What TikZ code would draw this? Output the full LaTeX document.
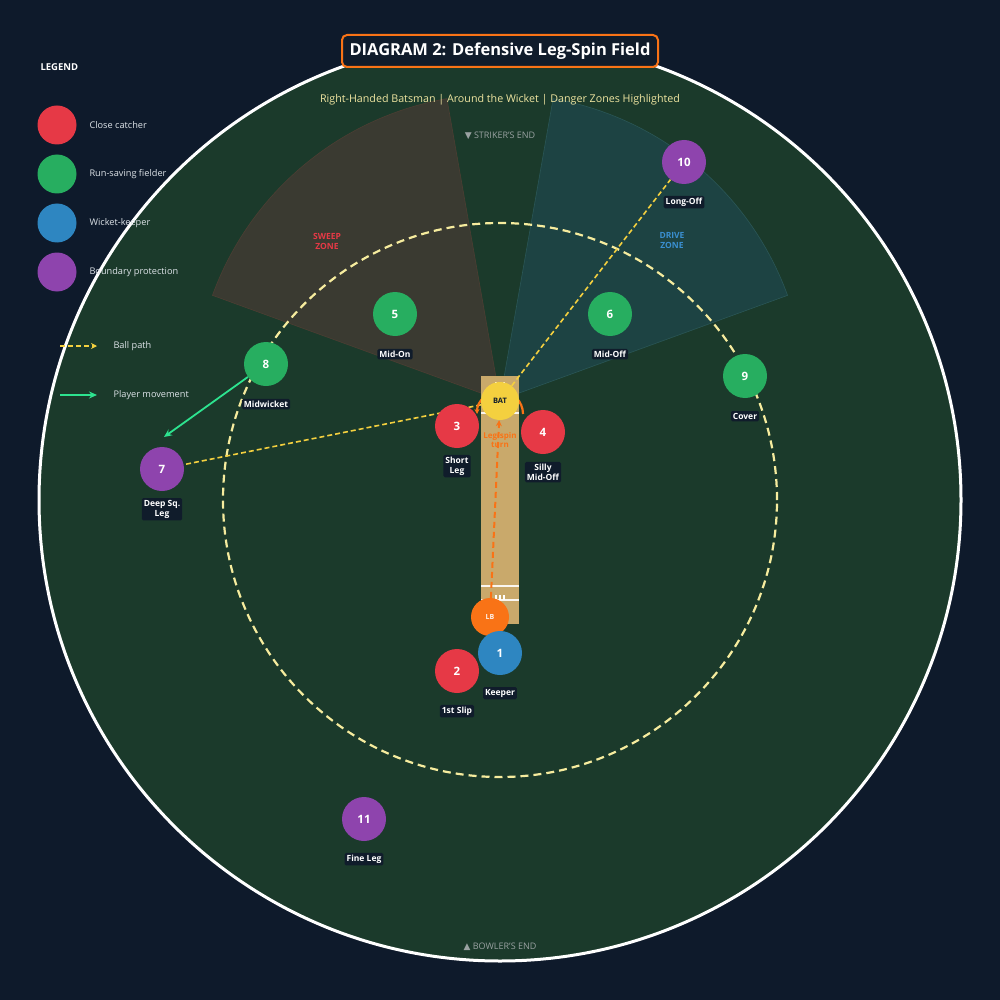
\documentclass[tikz,border=0pt]{standalone}
\usepackage{fontspec}
\setmainfont{Open Sans}
\newfontfamily\symfont{DejaVu Sans}
\usetikzlibrary{positioning,arrows.meta}

\definecolor{bgnavy}{HTML}{0E1A2B}
\definecolor{fieldgreen}{HTML}{1B3A2B}
\definecolor{sweepfill}{HTML}{3A3A31}
\definecolor{sweepedge}{HTML}{4C3E33}
\definecolor{drivefill}{HTML}{1D4343}
\definecolor{driveedge}{HTML}{2A5656}
\definecolor{innerring}{HTML}{F6EC9E}
\definecolor{pitchtan}{HTML}{C9A96B}
\definecolor{catchred}{HTML}{E63946}
\definecolor{savegreen}{HTML}{27AE60}
\definecolor{keepblue}{HTML}{2E86C1}
\definecolor{deeppurple}{HTML}{8E44AD}
\definecolor{batyellow}{HTML}{F4D03F}
\definecolor{spinorange}{HTML}{F97316}
\definecolor{movegreen}{HTML}{2DE38F}
\definecolor{tagbg}{HTML}{101C2B}
\definecolor{legendgrey}{HTML}{DDE3E8}
\definecolor{subyellow}{HTML}{EEE4A0}
\definecolor{endgrey}{HTML}{9AA2A2}
\definecolor{drivelabel}{HTML}{3A8FD0}

\newcommand\fsz[2]{\fontsize{#1}{#2}\selectfont}

\pgfdeclarelayer{base}
\pgfdeclarelayer{paths}
\pgfsetlayers{base,paths,main}

\tikzset{
  fielder/.style={circle, minimum size=44pt, inner sep=0pt, text=white, font=\fsz{11.5}{13}\bfseries},
  catcher/.style={fielder, fill=catchred},
  saver/.style={fielder, fill=savegreen},
  keeper/.style={fielder, fill=keepblue},
  deep/.style={fielder, fill=deeppurple},
  keydot/.style={circle, minimum size=39pt, inner sep=0pt},
  tag/.style={fill=tagbg, text=white, font=\fsz{8.5}{10}\bfseries, inner sep=2pt, rounded corners=1.5pt, align=center},
  legtext/.style={anchor=west, text=legendgrey, font=\fsz{9.2}{11}},
  ballpath/.style={draw=batyellow, line width=1.6pt, dash pattern=on 5pt off 3pt},
  spin/.style={draw=spinorange, line width=2pt, dash pattern=on 6pt off 4pt},
  move/.style={draw=movegreen, line width=1.8pt, -{Stealth[length=8pt,width=7pt]}},
  zonetext/.style={font=\fsz{8.5}{10}\bfseries, align=center},
}

\begin{document}
\begin{tikzpicture}[x=1pt,y=-1pt]
\useasboundingbox (0,0) rectangle (1000,1000);

\begin{pgfonlayer}{base}
  \fill[bgnavy] (0,0) rectangle (1000,1000);
  % ground
  \draw[white, line width=3pt, fill=fieldgreen] (500,500) circle[radius=461pt];
  % danger zones
  \coordinate (apex) at (500,400);
  \filldraw[fill=sweepfill, draw=sweepedge, line width=0.6pt]
    (apex) -- +(160:306pt) arc[start angle=160, end angle=100, radius=306pt] -- cycle;
  \filldraw[fill=drivefill, draw=driveedge, line width=0.6pt]
    (apex) -- +(80:306pt) arc[start angle=80, end angle=20, radius=306pt] -- cycle;
  % 30 yard circle
  \draw[innerring, line width=2.2pt, dash pattern=on 8pt off 5pt] (500,500) circle[radius=277pt];
  % pitch
  \fill[pitchtan] (481,376) rectangle (519,624);
  \draw[white!90!pitchtan, line width=1.2pt] (481,400) -- (519,400);
  \draw[white!90!pitchtan, line width=1.2pt] (481,413) -- (519,413);
  \draw[white!90!pitchtan, line width=1.2pt] (481,586) -- (519,586);
  \draw[white!90!pitchtan, line width=1.2pt] (481,600) -- (519,600);
  \draw[white, line width=1.2pt] (496,382) -- (496,387) (500,382) -- (500,387) (504,382) -- (504,387);
  \draw[white, line width=1.2pt] (496,595) -- (496,600) (500,595) -- (500,600) (504,595) -- (504,600);
\end{pgfonlayer}

% title and headings
\node[draw=spinorange, line width=2pt, fill=tagbg, rounded corners=5pt, text=white,
  font=\fsz{16.5}{19}\bfseries, minimum width=316pt, minimum height=32pt, inner sep=0pt]
  (title) at (500,51) {DIAGRAM 2: Defensive Leg-Spin Field};
\node[text=subyellow, font=\fsz{10.7}{12}] (subtitle) at (500,100)
  {Right-Handed Batsman | Around the Wicket | Danger Zones Highlighted};
\node[text=endgrey, font=\fsz{9}{10}] (striker) at (500,136) {{\symfont ▼} STRIKER'S END};
\node[text=endgrey, font=\fsz{9}{10}] (bowler) at (500,947) {{\symfont ▲} BOWLER'S END};

\node[zonetext, text=catchred] (sweep) at (327,241) {SWEEP\\ZONE};
\node[zonetext, text=drivelabel] (drive) at (672,241) {DRIVE\\ZONE};

% legend
\node[anchor=west, text=white, font=\fsz{9.5}{11}\bfseries] (legend) at (37,67) {LEGEND};
\node[keydot, fill=catchred] (key1) at (57,125) {};
\node[keydot, fill=savegreen] (key2) at (57,174) {};
\node[keydot, fill=keepblue] (key3) at (57,223) {};
\node[keydot, fill=deeppurple] (key4) at (57,272) {};
\node[legtext] (key1txt) at (86,125) {Close catcher};
\node[legtext] (key2txt) at (86,174) {Run-saving fielder};
\node[legtext] (key3txt) at (86,223) {Wicket-keeper};
\node[legtext] (key4txt) at (86,272) {Boundary protection};
\coordinate (key5a) at (60,346);
\coordinate (key5b) at (97,346);
\coordinate (key6a) at (60,395);
\coordinate (key6b) at (97,395);
\draw[ballpath, -{Stealth[length=6pt,width=6pt]}] (key5a) -- (key5b);
\draw[move] (key6a) -- (key6b);
\node[legtext] (key5txt) at (110,346) {Ball path};
\node[legtext] (key6txt) at (110,395) {Player movement};

% batsman and bowler
\node[circle, fill=batyellow, minimum size=38pt, inner sep=0pt, text=tagbg,
  font=\fsz{7.5}{9}\bfseries] (bat) at (500,401) {BAT};
\node[circle, fill=spinorange, minimum size=38pt, inner sep=0pt, text=white!90!spinorange,
  font=\fsz{7}{8}\bfseries] (lb) at (490,617) {LB};

% fielders
\node[keeper] (f1) at (500,653) {1};
\node[catcher] (f2) at (457,671) {2};
\node[catcher] (f3) at (457,426) {3};
\node[catcher] (f4) at (543,432) {4};
\node[saver] (f5) at (395,314) {5};
\node[saver] (f6) at (610,314) {6};
\node[deep] (f7) at (162,469) {7};
\node[saver] (f8) at (266,364) {8};
\node[saver] (f9) at (745,376) {9};
\node[deep] (f10) at (684,162) {10};
\node[deep] (f11) at (364,819) {11};

\node[tag, below=18pt of f1, anchor=center] (t1) {Keeper};
\node[tag, below=18pt of f2, anchor=center] (t2) {1st Slip};
\node[tag, below=18pt of f3, anchor=center] (t3) {Short\\Leg};
\node[tag, below=18pt of f4, anchor=center] (t4) {Silly\\Mid-Off};
\node[tag, below=18pt of f5, anchor=center] (t5) {Mid-On};
\node[tag, below=18pt of f6, anchor=center] (t6) {Mid-Off};
\node[tag, below=18pt of f7, anchor=center] (t7) {Deep Sq.\\Leg};
\node[tag, below=18pt of f8, anchor=center] (t8) {Midwicket};
\node[tag, below=18pt of f9, anchor=center] (t9) {Cover};
\node[tag, below=18pt of f10, anchor=center] (t10) {Long-Off};
\node[tag, below=18pt of f11, anchor=center] (t11) {Fine Leg};

% paths under the fielders
\begin{pgfonlayer}{paths}
  \draw[ballpath] (bat) -- (f10);
  \draw[ballpath] (bat) -- (f7);
  \coordinate (f7move) at (164,437);
  \draw[move] (f8) -- (f7move);
  \draw[spin, -{Stealth[length=6pt,width=6pt]}] (lb) -- (bat);
  \draw[spinorange, line width=2.2pt, -{Stealth[length=5pt,width=5pt]}]
    (523,414) arc[start angle=0, end angle=180, radius=23pt];
\end{pgfonlayer}
\node[text=spinorange, font=\fsz{8}{9}\bfseries, align=center] (spinlbl) at (500,440) {Leg-spin\\turn};

\end{tikzpicture}
\end{document}
